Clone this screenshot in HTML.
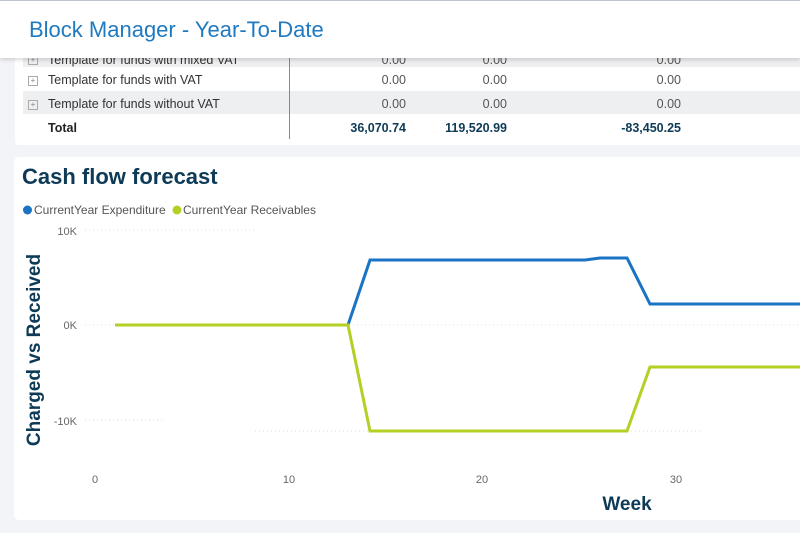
<!DOCTYPE html>
<html><head><meta charset="utf-8"><style>
body{margin:0;width:800px;height:533px;background:#f3f4f7;font-family:"Liberation Sans",sans-serif;position:relative;overflow:hidden}
.hdr{position:absolute;left:0;top:0;width:800px;height:57px;background:#fff;border-top:1px solid #bfc5cc;box-shadow:0 2px 4px rgba(0,0,0,.15);z-index:2}
.hdr span{position:absolute;left:29px;top:16px;font-size:22px;color:#1f7ac0}
.tbl{position:absolute;left:15px;top:40px;width:800px;height:105px;background:#fff;border-radius:4px}
.row{position:absolute;left:8px;width:792px;height:23px;font-size:12.5px;color:#333}
.row .n{position:absolute;left:25px;top:6px}
.row .v{position:absolute;top:6px;text-align:right;color:#555}
.box{position:absolute;left:5px;top:9px;width:8px;height:8px;border:1px solid #aaa;font-size:8px;line-height:8px;text-align:center;color:#888}
.card{position:absolute;left:14px;top:157px;width:800px;height:363px;background:#fff;border-radius:5px}
</style></head><body>
<div class="hdr"><span>Block Manager - Year-To-Date</span></div>
<div class="tbl">
 <div class="row" style="top:5px;height:22px;background:#eeeff1"><div class="box" style="top:10px">+</div><span class="n" style="top:8px">Template for funds with mixed VAT</span>
  <span class="v" style="right:409px;top:8px">0.00</span><span class="v" style="right:308px;top:8px">0.00</span><span class="v" style="right:134px;top:8px">0.00</span></div>
 <div class="row" style="top:27px"><div class="box">+</div><span class="n">Template for funds with VAT</span>
  <span class="v" style="right:409px">0.00</span><span class="v" style="right:308px">0.00</span><span class="v" style="right:134px">0.00</span></div>
 <div class="row" style="top:51px;background:#eeeff1"><div class="box">+</div><span class="n">Template for funds without VAT</span>
  <span class="v" style="right:409px">0.00</span><span class="v" style="right:308px">0.00</span><span class="v" style="right:134px">0.00</span></div>
 <div class="row" style="top:75px;font-weight:bold"><span class="n" style="color:#222">Total</span>
  <span class="v" style="right:409px;color:#0d3a56">36,070.74</span><span class="v" style="right:308px;color:#0d3a56">119,520.99</span><span class="v" style="right:134px;color:#0d3a56">-83,450.25</span></div>
 <div style="position:absolute;left:274px;top:17px;width:1px;height:82px;background:#888"></div>
</div>
<div class="card"></div>
<svg style="position:absolute;left:0;top:0" width="800" height="533">
 <text x="22" y="184" font-size="22" font-weight="bold" fill="#0d3a56" font-family="Liberation Sans">Cash flow forecast</text>
 <circle cx="27.5" cy="210" r="4.5" fill="#1a73c4"/>
 <text x="34" y="214" font-size="12" fill="#555">CurrentYear Expenditure</text>
 <circle cx="177" cy="210" r="4.5" fill="#b5cf25"/>
 <text x="183" y="214" font-size="12" fill="#555">CurrentYear Receivables</text>
 <g font-size="11" fill="#666" text-anchor="end">
  <text x="77" y="235">10K</text><text x="77" y="329">0K</text><text x="77" y="425">-10K</text></g>
 <g stroke="#ddd" stroke-dasharray="1,3">
  <line x1="85" y1="230" x2="255" y2="230"/><line x1="85" y1="325" x2="800" y2="325"/><line x1="85" y1="420" x2="165" y2="420"/><line x1="255" y1="431" x2="700" y2="431"/></g>
 <g font-size="11" fill="#666" text-anchor="middle">
  <text x="95" y="483">0</text><text x="289" y="483">10</text><text x="482" y="483">20</text><text x="676" y="483">30</text></g>
 <text x="627" y="510" font-size="19" font-weight="bold" fill="#0d3a56" text-anchor="middle">Week</text>
 <text transform="translate(40,350) rotate(-90)" font-size="19" font-weight="bold" fill="#0d3a56" text-anchor="middle">Charged vs Received</text>
 <polyline fill="none" stroke="#1a73c4" stroke-width="3" points="115,325 348,325 370,260 585,260 600,258 627,258 650,304 800,304"/>
 <polyline fill="none" stroke="#b5cf25" stroke-width="3" points="115,325 348,325 370,431 627,431 650,367 800,367"/>
</svg>
</body></html>
